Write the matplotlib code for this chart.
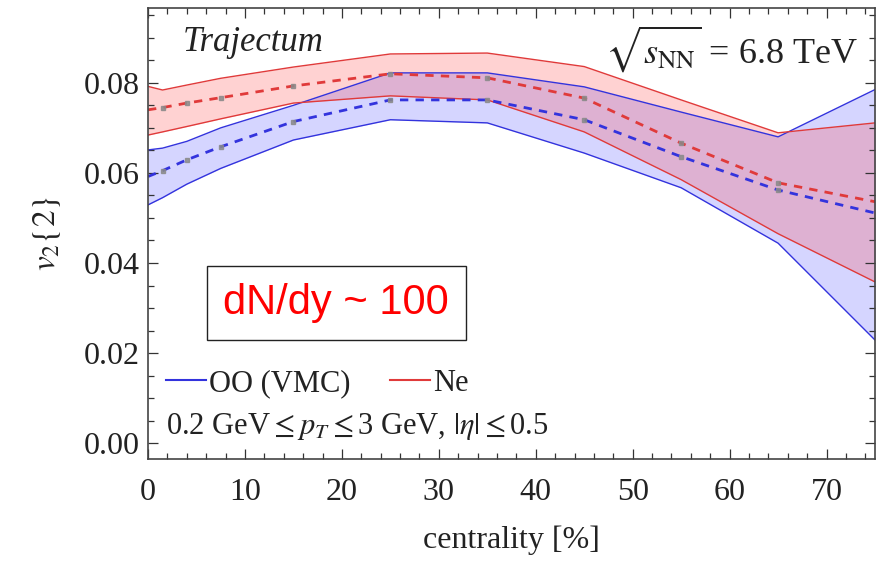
import matplotlib
matplotlib.use("Agg")
import matplotlib.pyplot as plt
from matplotlib.ticker import MultipleLocator, FormatStrFormatter
from matplotlib.lines import Line2D

plt.rcParams["font.family"] = ["Liberation Serif", "DejaVu Serif"]
plt.rcParams["mathtext.fontset"] = "stix"

# centrality nodes [%]
centrality = [0, 1.5, 4, 7.5, 15, 25, 35, 45, 55, 65, 75]

# OO (VMC): central value and band
oo_mid = [0.0592, 0.0605, 0.0629, 0.0658, 0.0714, 0.0762, 0.0762, 0.0718, 0.0636, 0.0562, 0.0511]
oo_hi = [0.0651, 0.0655, 0.0670, 0.0700, 0.0750, 0.0822, 0.0822, 0.0791, 0.0735, 0.0680, 0.0785]
oo_lo = [0.0529, 0.0545, 0.0575, 0.0610, 0.0673, 0.0718, 0.0711, 0.0644, 0.0567, 0.0444, 0.0229]

# Ne: central value and band
ne_mid = [0.0740, 0.0745, 0.0755, 0.0767, 0.0793, 0.0820, 0.0811, 0.0766, 0.0666, 0.0578, 0.0536]
ne_hi = [0.0792, 0.0784, 0.0795, 0.0810, 0.0835, 0.0864, 0.0866, 0.0836, 0.0762, 0.0689, 0.0711]
ne_lo = [0.0684, 0.0691, 0.0703, 0.0720, 0.0755, 0.0771, 0.0762, 0.0691, 0.0585, 0.0465, 0.0358]

BLUE = "#3333dd"
RED = "#e03a3a"

fig = plt.figure(figsize=(8.87, 5.64), dpi=100)
ax = fig.add_axes([0.1669, 0.1862, 0.8196, 0.7996])

ax.fill_between(centrality, oo_lo, oo_hi, color=(0.25, 0.25, 1.0), alpha=0.22, lw=0)
ax.fill_between(centrality, ne_lo, ne_hi, color=(1.0, 0.2, 0.2), alpha=0.22, lw=0)
for lo, hi, c in [(oo_lo, oo_hi, BLUE), (ne_lo, ne_hi, RED)]:
    ax.plot(centrality, lo, color=c, lw=1.0)
    ax.plot(centrality, hi, color=c, lw=1.0)

ax.plot(centrality, ne_mid, color=RED, lw=2.0, ls=(0, (3, 2.6)))
ax.plot(centrality, oo_mid, color=BLUE, lw=2.0, ls=(0, (3, 2.6)))

# statistical points along the central curves
ax.plot(centrality[1:-1], ne_mid[1:-1], ls="none", marker="s", ms=3.5, color="#8a8a8a", alpha=0.85)
ax.plot(centrality[1:-1], oo_mid[1:-1], ls="none", marker="s", ms=3.5, color="#8a8a8a", alpha=0.85)

ax.set_xlim(0, 75)
ax.set_ylim(-0.0035, 0.0966)
ax.xaxis.set_major_locator(MultipleLocator(10))
ax.xaxis.set_minor_locator(MultipleLocator(2))
ax.yaxis.set_major_locator(MultipleLocator(0.02))
ax.yaxis.set_minor_locator(MultipleLocator(0.005))
ax.yaxis.set_major_formatter(FormatStrFormatter("%.2f"))
ax.tick_params(which="both", direction="in", top=True, right=True, colors="#333333",
               labelcolor="#222222", labelsize=23, width=0.9)
ax.tick_params(which="major", length=7, pad=6)
ax.tick_params(axis="x", which="major", pad=14)
ax.tick_params(which="minor", length=4)
for s in ax.spines.values():
    s.set_color("#444444")
    s.set_linewidth(1.2)

ax.set_xlabel("centrality [%]", fontsize=23, color="#222222", labelpad=13)
ax.set_ylabel(r"$v_2\{2\}$", fontsize=24, color="#222222", labelpad=15)

ax.text(0.048, 0.905, "Trajectum", transform=ax.transAxes, fontsize=25,
        style="italic", color="#222222", va="baseline")
ax.text(0.977, 0.878, r"$\sqrt{s_{\mathrm{NN}}}$ = 6.8 TeV", transform=ax.transAxes,
        fontsize=26, color="#222222", ha="right", va="baseline")

ax.text(0.259, 0.346, "dN/dy ~ 100", transform=ax.transAxes, fontsize=30,
        color="#ff0000", family=["Liberation Sans", "DejaVu Sans"], ha="center", va="center",
        bbox=dict(boxstyle="square,pad=0.4", fc="white", ec="#222222", lw=1.0))

legend_handles = [Line2D([], [], color=BLUE, lw=1.5), Line2D([], [], color=RED, lw=1.5)]
leg = ax.legend(legend_handles, ["OO (VMC)", "Ne"], loc="lower left", ncol=2,
                bbox_to_anchor=(0.0, 0.095), frameon=False, fontsize=22,
                handlelength=1.3, handletextpad=0.1, columnspacing=1.3,
                labelcolor="#222222", borderaxespad=0.2)

ax.text(0.025, 0.055, r"0.2 GeV$\leq p_T \leq$3 GeV, $|\eta|\leq$0.5", transform=ax.transAxes,
        fontsize=22, color="#222222", va="baseline")

fig.savefig("out.png", dpi=100)
